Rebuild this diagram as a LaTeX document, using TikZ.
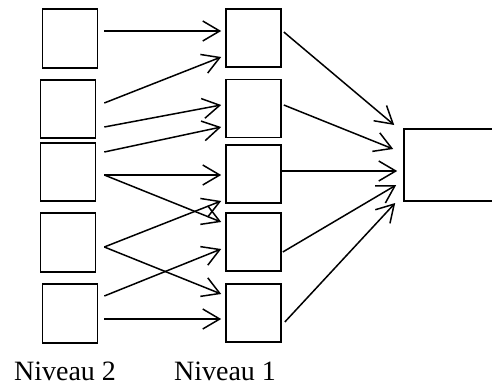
\documentclass[tikz,border=0pt]{standalone}
\usepackage{fontspec}
\setmainfont{Liberation Serif}
\usetikzlibrary{calc}
\usetikzlibrary{arrows.meta}
\tikzset{boite/.style={draw,line width=1.6pt,inner sep=0pt,minimum width=55pt,minimum height=58pt}}
\tikzset{fleche/.style={line width=1.5pt,-{Straight Barb[length=17pt,width=20pt,line width=1.5pt]}}}

\begin{document}
\begin{tikzpicture}[x=1pt,y=-1pt]
	\useasboundingbox (0,0) rectangle (492,385);
	% niveau 2
	\node[boite,minimum height=59pt] (g1) at (70,38.5) {};
	\node[boite] (g2) at (68,109) {};
	\node[boite] (g3) at (68,172) {};
	\node[boite,minimum height=59pt] (g4) at (68,242.5) {};
	\node[boite,minimum height=59pt] (g5) at (70,313.5) {};
	% niveau 1
	\node[boite] (m1) at (253.5,38) {};
	\node[boite] (m2) at (253.5,108.5) {};
	\node[boite] (m3) at (253.5,174) {};
	\node[boite] (m4) at (253.5,242) {};
	\node[boite] (m5) at (253.5,313) {};
	% sortie
	\node[boite,minimum width=96pt,minimum height=72pt] (sortie) at (452,165) {};
	% niveau 2 vers niveau 1
	\draw[fleche] ($(g1.east)+(6,-7.5)$) -- ($(m1.west)+(-4,-7)$);
	\draw[fleche] ($(g2.east)+(8,-6)$) -- ($(m1.west)+(-4,19)$);
	\draw[fleche] ($(g2.east)+(8,18)$) -- ($(m2.west)+(-4,-3.5)$);
	\draw[fleche] ($(g3.east)+(8,-20)$) -- ($(m2.west)+(-4,18.5)$);
	\draw[fleche] ($(g3.east)+(8,3)$) -- ($(m3.west)+(-4,1)$);
	\draw[fleche] ($(g3.east)+(8,3)$) -- ($(m4.west)+(-4,-20)$);
	\draw[fleche] ($(g4.east)+(8,4.5)$) -- ($(m3.west)+(-4,27)$);
	\draw[fleche] ($(g4.east)+(8,4.5)$) -- ($(m5.west)+(-4,-19)$);
	\draw[fleche] ($(g5.east)+(6,-17.5)$) -- ($(m4.west)+(-4,7)$);
	\draw[fleche] ($(g5.east)+(6,5.5)$) -- ($(m5.west)+(-4,6)$);
	% niveau 1 vers sortie
	\draw[fleche] ($(m1.east)+(2,-6)$) -- ($(sortie.west)+(-9,-40)$);
	\draw[fleche] ($(m2.east)+(2,-3.5)$) -- ($(sortie.west)+(-10,-16)$);
	\draw[fleche] ($(m3.east)+(0,-3)$) -- ($(sortie.west)+(-6,6)$);
	\draw[fleche] ($(m4.east)+(1,10)$) -- ($(sortie.west)+(-7,20)$);
	\draw[fleche] ($(m5.east)+(3,9)$) -- ($(sortie.west)+(-8,38)$);
	% etiquettes
	\node[font=\fontsize{28}{32}\selectfont,anchor=base,inner sep=0pt] (niv2) at (65,380) {Niveau 2};
	\node[font=\fontsize{28}{32}\selectfont,anchor=base,inner sep=0pt] (niv1) at (225,380) {Niveau 1};
\end{tikzpicture}
\end{document}
